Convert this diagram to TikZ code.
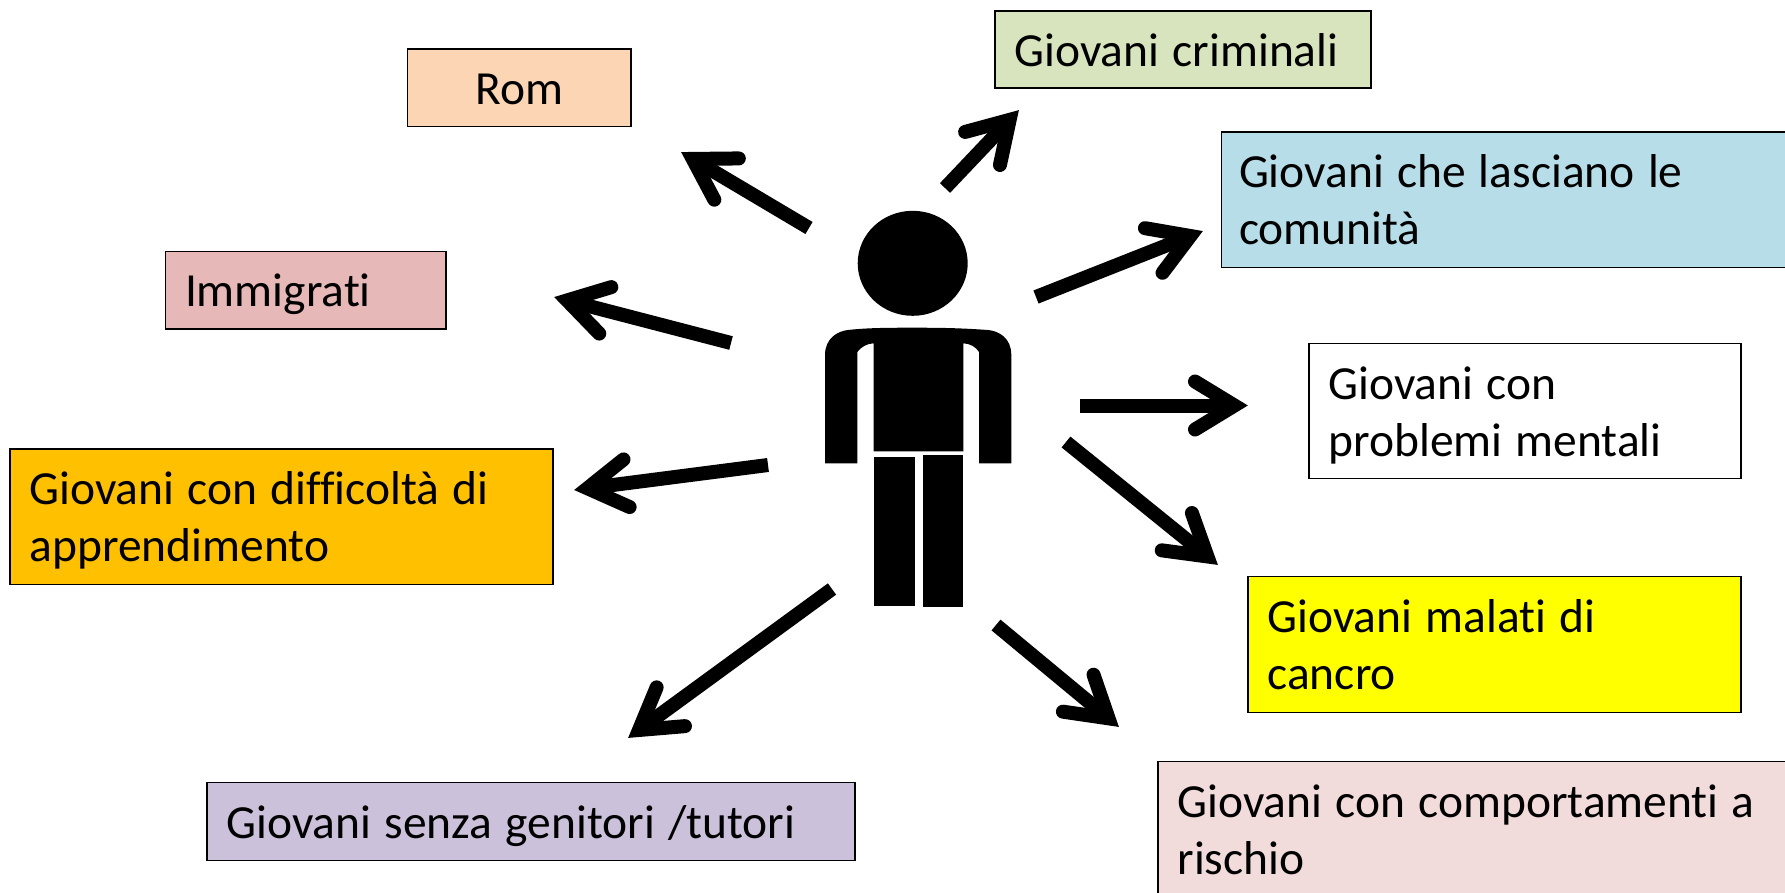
\documentclass[tikz,border=0pt]{standalone}
\usepackage{fontspec}
\setmainfont{Carlito}[Ligatures=NoCommon]
\usetikzlibrary{calc}
\definecolor{cRom}{HTML}{FCD5B5}
\definecolor{cCrim}{HTML}{D7E4BD}
\definecolor{cCom}{HTML}{B7DEE8}
\definecolor{cImm}{HTML}{E6B9B8}
\definecolor{cApp}{HTML}{FFC000}
\definecolor{cCan}{HTML}{FFFF00}
\definecolor{cRis}{HTML}{F2DCDB}
\definecolor{cSen}{HTML}{CCC1DA}
\tikzset{
  x=1pt,y=-1pt,
  box/.style={draw=black,line width=1.6pt,outer sep=0pt,anchor=north west,inner xsep=19.5pt,inner ysep=0pt,align=left,
    font=\fontsize{47.5}{57}\selectfont},
  arrshaft/.style={line width=14pt,line cap=butt},
  arrhead/.style={line width=14pt,line cap=round,line join=miter,miter limit=10},
}
\newcommand{\tl}[1]{\rule{0pt}{33pt}\smash{#1}}
\newcommand{\boxn}[8]{% name, x0,y0,x1,y1, color, align, text
  \pgfmathsetlengthmacro{\bw}{#4-#2}\pgfmathsetlengthmacro{\bh}{#5-#3}
  \node[box,fill=#6,minimum height=\bh,text width=\bw-39pt,#7] (#1) at (#2,#3) {\spaceskip=0.277em\relax #8};
}
\begin{document}
\begin{tikzpicture}
\useasboundingbox (0,0) rectangle (1785,892);
\clip (0,0) rectangle (1785,892);
\boxn{rom}{407.5}{49}{631}{126.5}{cRom}{align=center}{\tl{Rom}}
\boxn{crim}{995}{11}{1371}{88}{cCrim}{}{\tl{Giovani criminali}}
\boxn{com}{1221.5}{132}{1800}{267.5}{cCom}{inner xsep=17.5pt,text width=540pt}{\tl{Giovani che lasciano le}\\\tl{comunità}}
\boxn{men}{1309}{343.5}{1741}{478.5}{white}{}{\tl{Giovani con}\\\tl{problemi mentali}}
\boxn{can}{1248}{576.5}{1741}{712.5}{cCan}{}{\tl{Giovani malati di}\\\tl{cancro}}
\boxn{ris}{1158}{761.5}{1800}{898}{cRis}{}{\tl{Giovani con comportamenti a}\\\tl{rischio}}
\boxn{sen}{207}{782.5}{855}{860.5}{cSen}{}{\tl{Giovani senza genitori /tutori}}
\boxn{imm}{165.5}{251.5}{446}{329}{cImm}{}{\tl{Immigrati}}
\boxn{app}{10}{449}{553}{584.5}{cApp}{}{\tl{Giovani con difficoltà di}\\\tl{apprendimento}}
% figure
\fill (912.7,263.3) ellipse [x radius=55,y radius=52.5];
\fill (825,463.3) -- (825,355) .. controls (825,338) and (838,331) .. (848,330)
  .. controls (865,328) and (885,327.7) .. (912,327.7)
  .. controls (940,327.7) and (960,328) .. (988,330)
  .. controls (999,331) and (1011.3,338) .. (1011.3,355)
  -- (1011.3,463.3) -- (979,463.3) -- (979,352) .. controls (976,347) and (970,343.5) .. (963.3,343.3)
  -- (963.3,451.3) -- (873.7,451.3) -- (873.7,343.3) .. controls (867,343.5) and (861,347) .. (857.3,352)
  -- (857.3,463.3) -- cycle;
\fill (873.7,457) rectangle (915.3,605.7);
\fill (923.3,455.3) rectangle (962.7,606.7);
% arrows
\coordinate (sCrim) at (945,188); \coordinate (tCrim) at (1019,110);
\coordinate (sRom) at (809,228); \coordinate (tRom) at (681,152);
\coordinate (sImm) at (731,343); \coordinate (tImm) at (554,297);
\coordinate (sApp) at (768,465); \coordinate (tApp) at (574,490);
\coordinate (sSen) at (832,589); \coordinate (tSen) at (628,738);
\coordinate (sRis) at (996,625); \coordinate (tRis) at (1119,727);
\coordinate (sCan) at (1066,442); \coordinate (tCan) at (1218,565);
\coordinate (sMen) at (1080,405.5); \coordinate (tMen) at (1248,405.5);
\coordinate (sCom) at (1036,297); \coordinate (tCom) at (1203,231);
\foreach \n in {Crim,Rom,Imm,App,Sen,Ris,Can,Men,Com}{
  \coordinate (j) at ($(t\n)!13.6pt!(s\n)$);
  \coordinate (a) at ($(t\n)!53pt!(s\n)$);
  \coordinate (b1) at ($(a)!24pt!90:(t\n)$);
  \coordinate (b2) at ($(a)!24pt!-90:(t\n)$);
  \draw[arrshaft] (s\n) -- (j);
  \draw[arrhead] (b1) -- (j) -- (b2);
}
\end{tikzpicture}
\end{document}
